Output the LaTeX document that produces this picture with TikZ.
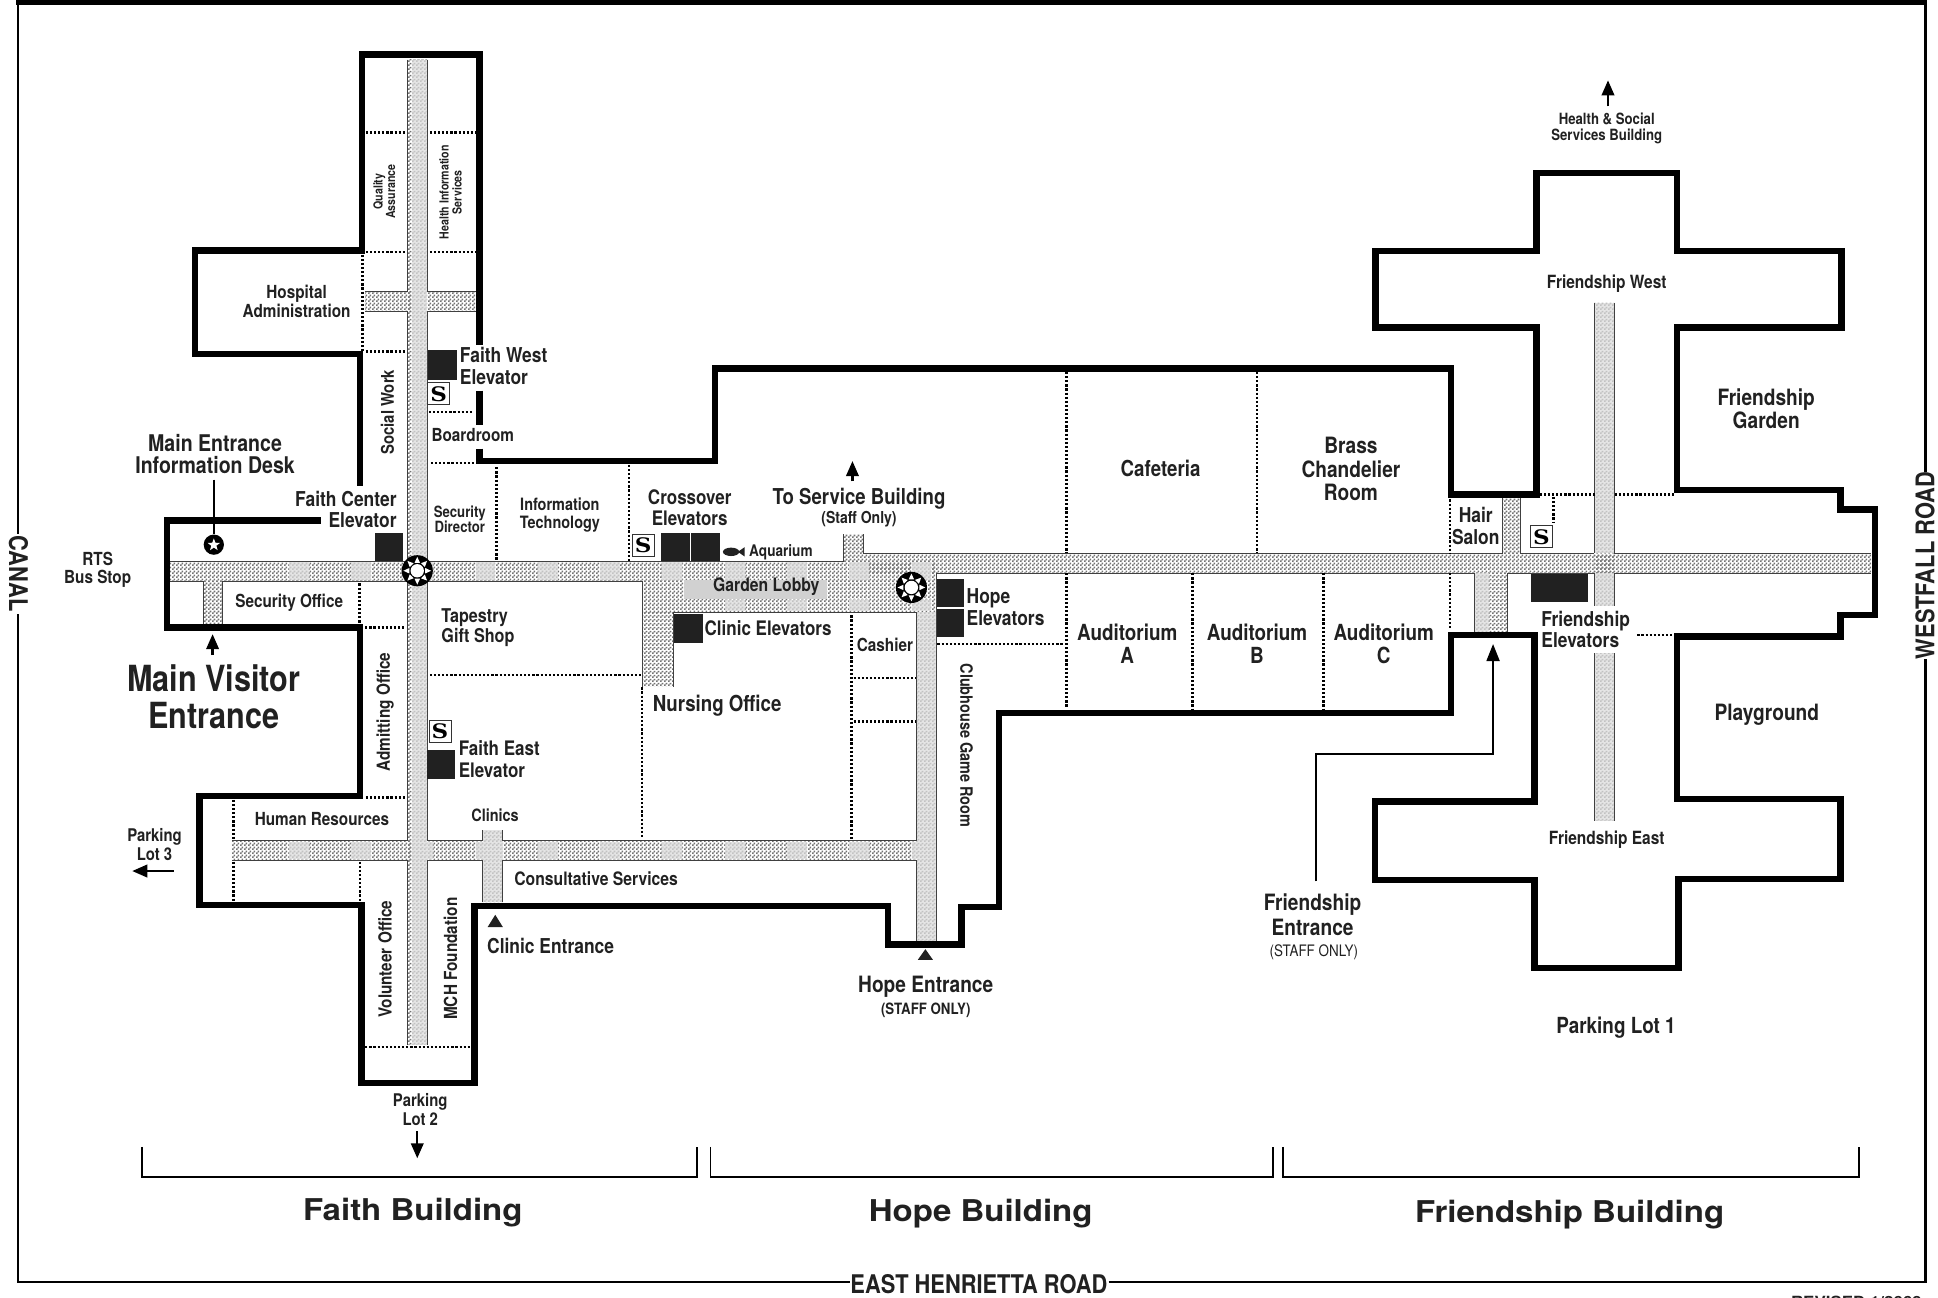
\documentclass[tikz,border=0pt]{standalone}
\usepackage{fontspec}
\usetikzlibrary{arrows.meta,shapes.geometric,patterns}
\newfontfamily\hv[FakeStretch=0.85]{TeX Gyre Heros}
\newfontfamily\hvw[FakeStretch=1.1]{TeX Gyre Heros}
\newfontfamily\stairfont[FakeStretch=1.15]{DejaVu Serif}
\definecolor{ink}{gray}{0.13}
\pgfdeclarepatternformonly{finecheck}{\pgfqpoint{0pt}{0pt}}{\pgfqpoint{4pt}{4pt}}{\pgfqpoint{4pt}{4pt}}{%
  \pgfpathrectangle{\pgfqpoint{0pt}{0pt}}{\pgfqpoint{2pt}{2pt}}%
  \pgfpathrectangle{\pgfqpoint{2pt}{2pt}}{\pgfqpoint{2pt}{2pt}}%
  \pgfusepath{fill}}
\tikzset{
  lb/.style 2 args={font=\hv\bfseries\fontsize{#1}{#2}\selectfont,align=center,inner sep=0pt,text=ink},
  lr/.style 2 args={font=\hv\fontsize{#1}{#2}\selectfont,align=center,inner sep=0pt,text=ink},
  ll/.style 2 args={font=\hv\bfseries\fontsize{#1}{#2}\selectfont,align=left,anchor=west,inner sep=0pt,text=ink},
  big/.style={font=\hvw\bfseries\fontsize{30}{32}\selectfont,inner sep=0pt,text=ink},
  wall/.style={line width=6.4pt,miter limit=10},
  frameline/.style={line width=2.6pt},
  corr/.style={pattern=finecheck,pattern color=black!55},
  patch/.style={preaction={fill=black!10},pattern=finecheck,pattern color=black!24},
  edge/.style={line width=0.9pt,black!75},
  room/.style={line width=2.5pt,dash pattern=on 2.2pt off 1.9pt},
  lift/.style={fill=ink},
  stair/.style={draw=black!80,line width=1pt,fill=white,inner sep=0pt,minimum width=22pt,minimum height=22pt,font=\stairfont\bfseries\fontsize{20}{20}\selectfont},
  arr/.style={line width=2.2pt,-{Triangle[length=15pt,width=12.5pt]}},
  brack/.style={line width=1.6pt},
}
\begin{document}
\begin{tikzpicture}[x=1.23597pt,y=-1.23619pt]
\useasboundingbox (0,0) rectangle (1568,1050);
% outer frame
\fill[black] (13,0) rectangle (1559,3.8);
\draw[frameline] (14.6,0) -- (14.6,432);
\draw[frameline] (14.6,497) -- (14.6,1037) -- (688,1037);
\draw[frameline] (897,1037) -- (1558,1037) -- (1558,533);
\draw[frameline] (1558,382) -- (1558,0);
% corridors
\path[corr] (137.5,454) rectangle (757.7,470);
\path[corr] (330,48.5) rectangle (345.6,845);
\path[corr] (295.5,235.6) rectangle (385,251.8);
\path[corr] (165,470) rectangle (180,505);
\path[corr] (520,470) rectangle (757.7,495.3);
\path[corr] (520,495.3) rectangle (544.6,555.7);
\path[corr] (741.5,495.3) rectangle (757.7,761.6);
\path[corr] (698.4,447.6) rectangle (1514,463.7);
\path[corr] (682.5,432) rectangle (698.4,454);
\path[corr] (187.7,680) rectangle (741.5,696);
\path[corr] (390.5,671.6) rectangle (406.6,730);
\path[corr] (1215.8,403) rectangle (1230,448);
\path[corr] (1192.7,463.7) rectangle (1220,513);
\path[corr] (1290,245) rectangle (1306,490);
\path[corr] (1290,528.5) rectangle (1306,664);
% lighter bands in the corridor tint
\foreach \k in {-6,...,4}{
  \pgfmathsetmacro\px{536+50.4*\k}
  \pgfmathsetmacro\qx{\px+16}
  \path[patch] (\px,455) rectangle (\qx,469);
  \path[patch] (\px,681) rectangle (\qx,695);
}
\foreach \k in {1,...,4}{
  \pgfmathsetmacro\px{536+50.4*\k}
  \pgfmathsetmacro\qx{\px+16}
  \path[patch] (\px,485) rectangle (\qx,494);
}
\path[patch] (333,48.5) rectangle (345.2,845);
\path[patch] (742,495.3) rectangle (757.3,761.6);
\path[patch] (1290,245) rectangle (1306,447.6);
\path[patch] (1290,463.7) rectangle (1306,490);
\path[patch] (1290,528.5) rectangle (1306,664);
\path[patch] (390.5,671.6) rectangle (406.6,730);
\path[patch] (1192.7,463.7) rectangle (1205,513);
\fill[black!18] (553,469) rectangle (669,484.5);
% corridor edges
\draw[edge] (330,48.5)--(330,235.6) (330,251.8)--(330,454) (330,470)--(330,680) (330,696)--(330,845);
\draw[edge] (345.6,48.5)--(345.6,235.6) (345.6,251.8)--(345.6,454) (345.6,470)--(345.6,680) (345.6,696)--(345.6,845);
\draw[edge] (295.5,235.6)--(330,235.6) (345.6,235.6)--(385,235.6) (295.5,251.8)--(330,251.8) (345.6,251.8)--(385,251.8);
\draw[edge] (137.5,454)--(330,454) (345.6,454)--(682.5,454) (137.5,470)--(165,470) (180,470)--(330,470) (345.6,470)--(520,470);
\draw[edge] (165,470)--(165,505) (180,470)--(180,505);
\draw[edge] (520,470)--(520,555.7) (544.6,495.3)--(544.6,555.7) (544.6,495.3)--(741.5,495.3) (741.5,495.3)--(741.5,680) (741.5,696)--(741.5,761.6) (757.7,463.7)--(757.7,761.6);
\draw[edge] (187.7,680)--(330,680) (345.6,680)--(390.5,680) (406.6,680)--(741.5,680);
\draw[edge] (187.7,696)--(330,696) (345.6,696)--(390.5,696) (406.6,696)--(741.5,696);
\draw[edge] (390.5,671.6)--(390.5,680) (406.6,671.6)--(406.6,680) (390.5,696)--(390.5,730) (406.6,696)--(406.6,730);
\draw[edge] (682.5,432)--(682.5,454) (698.4,432)--(698.4,447.6);
\draw[edge] (698.4,447.6)--(1215.8,447.6) (1230,447.6)--(1290,447.6) (1306,447.6)--(1514,447.6);
\draw[edge] (757.7,463.7)--(1192.7,463.7) (1220,463.7)--(1290,463.7) (1306,463.7)--(1514,463.7);
\draw[edge] (1215.8,403)--(1215.8,447.6) (1230,403)--(1230,447.6) (1192.7,463.7)--(1192.7,513) (1220,463.7)--(1220,513);
\draw[edge] (1290,245)--(1290,447.6) (1306,245)--(1306,447.6) (1290,463.7)--(1290,490) (1306,463.7)--(1306,490) (1290,528.5)--(1290,664) (1306,528.5)--(1306,664);
% room dividers
\draw[room] (296,107)--(328.6,107) (347.8,107)--(385,107) (296,204)--(328.6,204) (347.8,204)--(385,204);
\draw[room] (293.3,206)--(293.3,284) (296,284.5)--(328.6,284.5) (347,333.3)--(383,333.3) (348.7,374.6)--(385,374.6);
\draw[room] (401.6,378)--(401.6,454) (508.8,376)--(508.8,454) (290.8,472)--(290.8,505) (295.5,507.6)--(328.6,507.6);
\draw[room] (347.8,546)--(519,546) (519.6,556)--(519.6,677) (296,645)--(328.6,645);
\draw[room] (188.9,647)--(188.9,679) (188.9,697)--(188.9,729) (291.4,697)--(291.4,729) (295.5,847)--(381,847);
\draw[room] (689,497.8)--(689,679.5) (690.6,548.3)--(741,548.3) (690.6,583.6)--(741,583.6) (758.5,521)--(861,521);
\draw[room] (863,301)--(863,447.6) (863,463.7)--(863,573) (1017,301)--(1017,447.6) (965,463.7)--(965,574) (1071,463.7)--(1071,574);
\draw[room] (1173.3,404)--(1173.3,448) (1173.3,463.5)--(1173.3,509);
\draw[room] (1245.8,400)--(1290.7,400) (1306.5,400)--(1355,400) (1256.7,402)--(1256.7,423) (1324.7,513.5)--(1353,513.5);
% walls
\draw[wall] (291.4,393)--(291.4,286.5)--(157.7,286.5)--(157.7,202.6)--(292.7,202.6)--(292.7,44)--(388,44)--(388,279);
\draw[wall] (388,316)--(388,344);
\draw[wall] (388,363)--(388,373)--(578.5,373)--(578.5,298)--(1174,298)--(1174,400)--(1243,400)--(1243,265)--(1113,265)--(1113,203)--(1243,203)--(1243,140)--(1357,140)--(1357,203)--(1490,203)--(1490,265)--(1357,265)--(1357,396.5)--(1489,396.5)--(1489,412)--(1517,412)--(1517,497.6)--(1489,497.6)--(1489,515)--(1357,515)--(1357,646.5)--(1489,646.5)--(1489,711)--(1358,711)--(1358,783)--(1241.6,783)--(1241.6,712)--(1112.6,712)--(1112.6,648.5)--(1241.6,648.5)--(1241.6,513.5)--(1174,513.5)--(1174,577)--(808.5,577)--(808.5,733.7)--(778,733.7)--(778,764)--(718.6,764)--(718.6,733)--(384,733)--(384,876)--(292.4,876)--(292.4,732)--(161.4,732)--(161.4,643.8)--(291.4,643.8)--(291.4,507.6)--(135,507.6)--(135,421)--(260,421);
% elevators
\fill[lift] (346.5,283) rectangle (369.5,307);
\fill[lift] (303,431) rectangle (326,454);
\fill[lift] (535,431) rectangle (558,454);
\fill[lift] (559.4,431) rectangle (582.5,454);
\fill[lift] (758,468) rectangle (780,491);
\fill[lift] (758,492.4) rectangle (780,515.4);
\fill[lift] (545.2,497) rectangle (568.6,520);
\fill[lift] (345.6,606.8) rectangle (368,630);
\fill[lift] (1238.5,464) rectangle (1285,487);
% stairs
\node[stair] (s1) at (355,318.5) {S};
\node[stair] (s2) at (520.3,441.4) {S};
\node[stair] (s3) at (356,591.7) {S};
\node[stair] (s4) at (1247.2,434.3) {S};
% compass markers
\foreach \cx/\cy in {337.6/461.7,737.4/475.2}{
  \begin{scope}[shift={(\cx,\cy)}]
  \fill[black] (0,0) circle[radius=12.6];
  \foreach \ang in {0,45,...,315}{
    \pgfmathsetmacro\aa{\ang+19}\pgfmathsetmacro\ab{\ang-19}
    \fill[white] (\ang:11.2) -- (\aa:6.8) -- (\ab:6.8) -- cycle;
  }
  \fill[white] (0,0) circle[radius=5.4];
  \end{scope}
}
% info desk marker
\draw[line width=1.8pt] (173,388) -- (173,432);
\fill[black] (173,440.6) circle[radius=8.2];
\node[star,star points=5,star point ratio=2.4,fill=white,inner sep=0pt,minimum size=13pt] (desk) at (173,440.8) {};
% fish
\fill[ink] (591.5,446.4) ellipse[x radius=6.6,y radius=3.4];
\fill[ink] (597,446.4) -- (602.5,442.6) -- (602.5,450.2) -- cycle;
% arrows
\coordinate (a1s) at (689.7,389.4); \coordinate (a1e) at (689.7,373);
\draw[arr] (a1s) -- (a1e);
\coordinate (a2s) at (172,530); \coordinate (a2e) at (172,513);
\draw[arr] (a2s) -- (a2e);
\coordinate (a3s) at (140.5,704.6); \coordinate (a3e) at (107,704.6);
\draw[arr] (a3s) -- (a3e);
\coordinate (a4s) at (337.6,915); \coordinate (a4e) at (337.6,937);
\draw[arr] (a4s) -- (a4e);
\coordinate (a5s) at (1301,86); \coordinate (a5e) at (1301,65);
\draw[arr] (a5s) -- (a5e);
\coordinate (f1) at (1065,713); \coordinate (f2) at (1065,610); \coordinate (f3) at (1208,610); \coordinate (f4) at (1208,521);
\draw[line width=1.9pt,-{Triangle[length=17pt,width=13pt]}] (f1) -- (f2) -- (f3) -- (f4);
\fill[ink] (394.5,750) -- (400.7,740) -- (406.9,750) -- cycle;
\fill[ink] (742.6,776.4) -- (748.7,767.8) -- (754.8,776.4) -- cycle;
% brackets
\draw[brack] (115,927.7)--(115,952)--(563.9,952)--(563.9,927.7);
\draw[brack] (575,927.7)--(575,952)--(1030,952)--(1030,927.7);
\draw[brack] (1038,927.7)--(1038,952)--(1504,952)--(1504,927.7);
% labels
\node[lb={18}{18.5}] (t1) at (79,461) {RTS\\Bus Stop};
\node[lb={23}{22}] (t2) at (174,367.5) {Main Entrance\\Information Desk};
\node[lb={36}{37}] (t3) at (173,563.5) {Main Visitor\\Entrance};
\node[lb={20.5}{21},align=right,anchor=east] (t4) at (321,412) {Faith Center\\Elevator};
\node[ll={20.5}{22.5}] (t5) at (372,296) {Faith West\\Elevator};
\node[ll={18}{20}] (t6) at (349,352) {Boardroom};
\node[lb={18}{19}] (t7) at (240,243.5) {Hospital\\Administration};
\node[lb={17.5}{20},rotate=90] (t8) at (313.5,333.5) {Social Work};
\node[lb={12.5}{12.5},rotate=90] (t9) at (311,155) {Quality\\Assurance};
\node[lb={12.5}{13},rotate=90] (t10) at (364.5,155.5) {Health Information\\Services};
\node[lb={15.5}{15.5}] (t11) at (372,420) {Security\\Director};
\node[lb={17}{18}] (t12) at (453,416.5) {Information\\Technology};
\node[lb={20}{21}] (t13) at (558,411) {Crossover\\Elevators};
\node[lb={21.9}{22}] (t14) at (695,403.5) {To Service Building};
\node[lr={16.5}{16}] (t15) at (695,420) {\bfseries (Staff Only)};
\node[ll={16}{16}] (t16) at (606,446.5) {Aquarium};
\node[lb={22}{24}] (t17) at (939,379) {Cafeteria};
\node[lb={22.5}{23.5}] (t18) at (1093,379.7) {Brass\\Chandelier\\Room};
\node[lb={20.5}{21.5}] (t19) at (1194,425.5) {Hair\\Salon};
\node[lb={18.2}{18}] (t20) at (1300,229.7) {Friendship West};
\node[lb={18.2}{18}] (t21) at (1300,679.2) {Friendship East};
\node[lb={15.5}{16}] (t22) at (1300,104) {Health \& Social\\Services Building};
\node[lb={22.5}{23}] (t23) at (1429,330.5) {Friendship\\Garden};
\node[lb={22.5}{24}] (t24) at (1429.5,578) {Playground};
\node[ll={20.5}{21.5}] (t25) at (1247,509) {Friendship\\Elevators};
\node[lb={22.2}{23}] (t26) at (912,520.5) {Auditorium\\A};
\node[lb={22.2}{23}] (t27) at (1017,520.5) {Auditorium\\B};
\node[lb={22.2}{23}] (t28) at (1119.5,520.5) {Auditorium\\C};
\node[ll={20.5}{22}] (t29) at (782,491.5) {Hope\\Elevators};
\node[lb={17}{18},rotate=-90] (t30) at (782,603) {Clubhouse Game Room};
\node[lb={18.5}{20}] (t31) at (620,474.5) {Garden Lobby};
\node[ll={20}{22}] (t32) at (570,508) {Clinic Elevators};
\node[lb={18}{20}] (t33) at (716,521.5) {Cashier};
\node[ll={22}{24}] (t34) at (528,571) {Nursing Office};
\node[ll={19}{20}] (t35) at (357,507.5) {Tapestry\\Gift Shop};
\node[lb={18}{20}] (t36) at (234,488) {Security Office};
\node[lb={18}{20},rotate=90] (t37) at (311.5,576) {Admitting Office};
\node[ll={20}{22}] (t38) at (371,614) {Faith East\\Elevator};
\node[lb={18}{20}] (t39) at (260.5,662.5) {Human Resources};
\node[lb={17}{20}] (t40) at (400.5,659.5) {Clinics};
\node[ll={18.5}{20}] (t41) at (416,711) {Consultative Services};
\node[lb={18}{20},rotate=90] (t42) at (311.5,776) {Volunteer Office};
\node[lb={18}{20},rotate=90] (t43) at (364.5,775.5) {MCH Foundation};
\node[ll={20.5}{22}] (t44) at (394,765.5) {Clinic Entrance};
\node[lb={22.5}{24}] (t45) at (749,798) {Hope Entrance};
\node[lb={15.6}{16}] (t46) at (749,817) {(STAFF ONLY)};
\node[lb={22.5}{25}] (t47) at (1062,740) {Friendship\\Entrance};
\node[lr={15.8}{16}] (t48) at (1063,770.5) {(STAFF ONLY)};
\node[lb={22.2}{24}] (t49) at (1307.5,831.5) {Parking Lot 1};
\node[lb={17.5}{18.5}] (t50) at (125,683) {Parking\\Lot 3};
\node[lb={17.5}{18.5}] (t51) at (340,897.5) {Parking\\Lot 2};
\node[big] (t52) at (334,981) {Faith Building};
\node[big] (t53) at (793.5,982) {Hope Building};
\node[big] (t54) at (1270,982.5) {Friendship Building};
\node[lb={25.7}{26},rotate=-90] (t55) at (15,464) {CANAL};
\node[lb={25.7}{26},rotate=90] (t56) at (1557.5,457.5) {WESTFALL ROAD};
\node[lb={25.7}{26}] (t57) at (792,1038.5) {EAST HENRIETTA ROAD};
\node[font=\bfseries\fontsize{15.4}{17}\selectfont\hvw,inner sep=0pt,text=ink] (t58) at (1502,1053) {REVISED 1/2009};
\end{tikzpicture}
\end{document}
